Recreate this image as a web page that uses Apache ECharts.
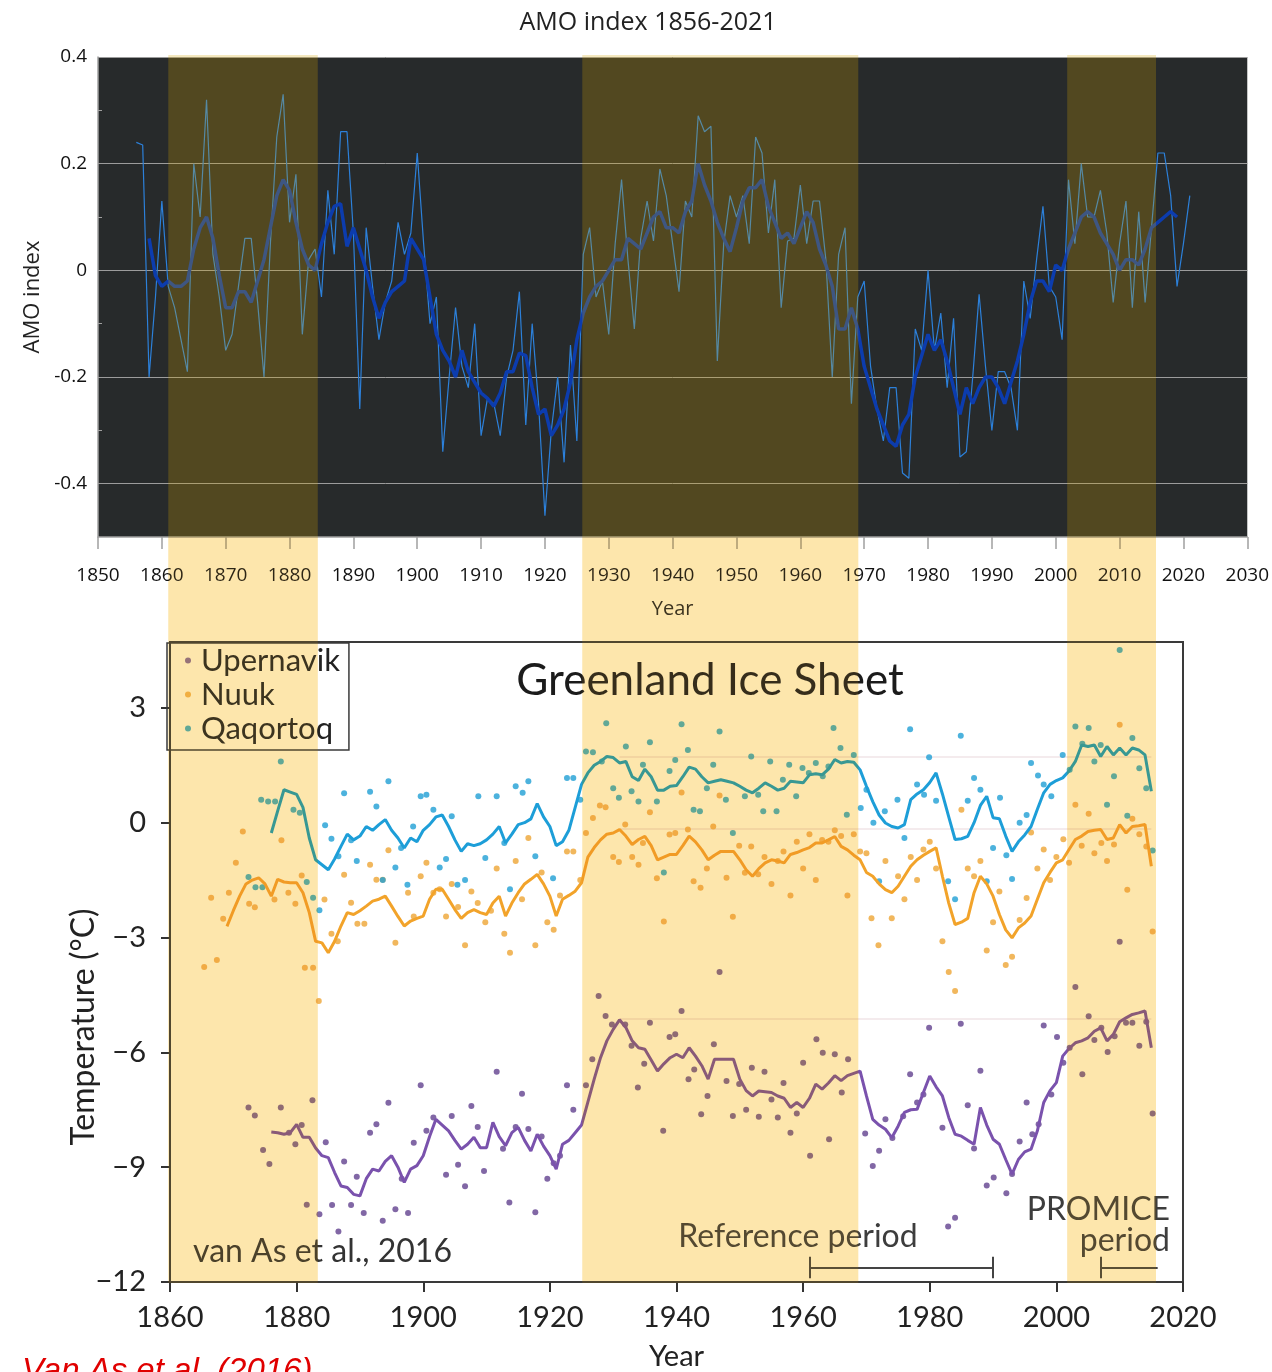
<!DOCTYPE html>
<html>
<head>
<meta charset="utf-8">
<title>AMO index and Greenland temperatures</title>
<script src="https://cdn.jsdelivr.net/npm/echarts@6/dist/echarts.min.js"></script>
<style>
  html, body { margin: 0; padding: 0; background: #fff; }
  #chart { width: 1272px; height: 1372px; }
</style>
</head>
<body>
<div id="chart"></div>
<script>
// ---- AMO index (top panel) ----
const amoStart = 1856;
const amoAnnual = [
  0.24, 0.235, -0.20, -0.05, 0.13, -0.03, -0.07, -0.13, -0.19, 0.20,
  0.10, 0.32, 0.03, -0.05, -0.15, -0.12, -0.03, 0.06, 0.06, -0.06,
  -0.20, 0.05, 0.25, 0.33, 0.09, 0.18, -0.12, 0.02, 0.04, -0.05,
  0.15, 0.03, 0.26, 0.26, 0.07, -0.26, 0.08, -0.03, -0.13, -0.06,
  -0.02, 0.09, 0.03, 0.07, 0.22, 0.05, -0.10, -0.05, -0.34, -0.20,
  -0.07, -0.18, -0.22, -0.10, -0.31, -0.24, -0.25, -0.31, -0.20, -0.15,
  -0.04, -0.29, -0.10, -0.25, -0.46, -0.30, -0.20, -0.36, -0.14, -0.32,
  0.03, 0.08, -0.05, -0.02, -0.12, 0.05, 0.17, 0.02, -0.11, 0.06,
  0.13, 0.055, 0.19, 0.14, 0.05, -0.04, 0.13, 0.10, 0.29, 0.26,
  0.27, -0.17, 0.05, 0.14, 0.10, 0.14, 0.05, 0.25, 0.22, 0.07,
  0.17, -0.07, 0.055, 0.06, 0.16, 0.05, 0.13, 0.13, 0.02, -0.20,
  0.03, 0.08, -0.25, -0.05, -0.02, -0.18, -0.26, -0.32, -0.22, -0.22,
  -0.38, -0.39, -0.11, -0.15, 0.00, -0.15, -0.08, -0.22, -0.09, -0.35,
  -0.34, -0.20, -0.045, -0.18, -0.30, -0.19, -0.19, -0.22, -0.30, -0.02,
  -0.09, 0.02, 0.12, -0.03, -0.05, -0.13, 0.17, 0.05, 0.20, 0.10,
  0.10, 0.15, 0.07, -0.06, 0.05, 0.13, -0.07, 0.11, -0.06, 0.08,
  0.22, 0.22, 0.14, -0.03, 0.05, 0.14
];
const amoSmoothStart = 1858;
const amoSmooth = [
  0.06, -0.01, -0.03, -0.02, -0.03, -0.03, -0.02, 0.04, 0.08, 0.10,
  0.06, -0.01, -0.07, -0.07, -0.04, -0.04, -0.06, -0.02, 0.02, 0.08,
  0.14, 0.17, 0.15, 0.09, 0.04, 0.01, 0.00, 0.05, 0.09, 0.12,
  0.125, 0.045, 0.08, 0.04, 0.00, -0.05, -0.09, -0.06, -0.04, -0.03,
  -0.02, 0.06, 0.04, 0.02, -0.05, -0.12, -0.15, -0.17, -0.20, -0.15,
  -0.19, -0.21, -0.23, -0.24, -0.255, -0.23, -0.19, -0.19, -0.155, -0.16,
  -0.22, -0.27, -0.26, -0.31, -0.29, -0.26, -0.21, -0.13, -0.08, -0.05,
  -0.03, -0.02, 0.00, 0.02, 0.02, 0.06, 0.05, 0.04, 0.07, 0.10,
  0.11, 0.08, 0.08, 0.07, 0.11, 0.13, 0.20, 0.16, 0.13, 0.09,
  0.06, 0.035, 0.08, 0.13, 0.155, 0.155, 0.17, 0.12, 0.09, 0.06,
  0.07, 0.05, 0.08, 0.11, 0.09, 0.04, 0.01, -0.03, -0.11, -0.11,
  -0.07, -0.11, -0.18, -0.22, -0.26, -0.29, -0.32, -0.33, -0.29, -0.27,
  -0.20, -0.16, -0.12, -0.15, -0.13, -0.17, -0.22, -0.27, -0.22, -0.25,
  -0.22, -0.20, -0.20, -0.22, -0.25, -0.21, -0.17, -0.12, -0.06, -0.02,
  -0.02, -0.04, 0.01, 0.00, 0.04, 0.07, 0.10, 0.11, 0.10, 0.07,
  0.05, 0.03, 0.00, 0.02, 0.02, 0.01, 0.04, 0.08, 0.09, 0.10,
  0.11, 0.10
];
const amoTicks = [0.4, 0.2, 0, -0.2, -0.4];
const amoMinorTicks = [0.3, 0.1, -0.1, -0.3];

// ---- Greenland station temperatures (bottom panel) ----
const upernavikStart = 1876;
const upernavikLine = [
  -8.08, -8.10, -8.14, -8.10, -7.88, -8.22, -8.22, -8.50, -8.70, -8.75,
  -9.14, -9.49, -9.53, -9.71, -9.75, -9.30, -9.05, -9.10, -8.85, -8.70,
  -9.00, -9.40, -9.05, -8.96, -8.70, -8.20, -7.75, -7.90, -8.05, -8.30,
  -8.53, -8.40, -8.22, -8.49, -8.49, -7.83, -8.20, -8.44, -8.10, -7.96,
  -8.30, -8.58, -8.14, -8.45, -8.70, -9.05, -8.40, -8.30, -8.10, -7.90,
  -7.30, -6.70, -6.14, -5.70, -5.40, -5.15, -5.35, -5.70, -5.88, -5.92,
  -6.20, -6.49, -6.30, -6.14, -6.05, -6.14, -5.88, -6.10, -6.35, -6.70,
  -6.18, -6.18, -6.18, -6.18, -6.70, -7.00, -7.14, -7.01, -7.03, -7.05,
  -7.14, -7.20, -7.44, -7.31, -7.44, -7.20, -6.83, -6.96, -6.80, -6.61,
  -6.74, -6.61, -6.55, -6.49, -7.14, -7.75, -7.90, -8.01, -8.23, -7.93,
  -7.57, -7.50, -7.49, -7.05, -6.62, -6.90, -7.14, -7.70, -8.14, -8.19,
  -8.30, -8.40, -7.44, -7.90, -8.27, -8.40, -8.80, -9.18, -8.80, -8.60,
  -8.53, -8.05, -7.31, -7.00, -6.79, -6.10, -5.90, -5.75, -5.70, -5.62,
  -5.45, -5.36, -5.70, -5.53, -5.20, -5.10, -5.01, -4.97, -4.92, -5.88
];
const nuukStart = 1869;
const nuukLine = [
  -2.71, -2.30, -1.92, -1.60, -1.50, -1.44, -1.60, -1.92, -1.48, -1.55,
  -1.57, -1.57, -1.83, -2.35, -3.10, -3.14, -3.40, -3.10, -2.70, -2.35,
  -2.40, -2.30, -2.18, -2.05, -2.00, -1.92, -2.18, -2.45, -2.70, -2.57,
  -2.50, -2.44, -2.00, -1.74, -1.74, -2.00, -2.27, -2.50, -2.35, -2.27,
  -2.35, -2.40, -2.10, -1.92, -2.44, -2.10, -1.83, -1.60, -1.48, -1.35,
  -1.60, -1.92, -2.44, -2.00, -1.90, -1.79, -1.57, -0.90, -0.65, -0.45,
  -0.30, -0.27, -0.18, -0.35, -0.57, -0.44, -0.36, -0.60, -0.97, -0.90,
  -0.83, -0.83, -0.60, -0.35, -0.50, -0.71, -0.97, -0.85, -0.75, -0.75,
  -0.75, -0.97, -1.23, -1.40, -1.20, -1.05, -0.97, -1.00, -1.05, -0.83,
  -0.78, -0.71, -0.65, -0.53, -0.53, -0.45, -0.36, -0.62, -0.71, -0.85,
  -0.97, -1.30, -1.40, -1.60, -1.75, -1.83, -1.66, -1.40, -1.14, -0.97,
  -0.85, -0.75, -0.66, -1.40, -2.10, -2.66, -2.60, -2.50, -1.83, -1.40,
  -1.60, -1.92, -2.40, -2.80, -3.01, -2.75, -2.62, -2.44, -2.00, -1.57,
  -1.30, -1.05, -0.97, -0.70, -0.44, -0.35, -0.23, -0.20, -0.18, -0.44,
  -0.40, -0.05, -0.27, -0.10, -0.08, -0.05, -1.14
];
const qaqortoqStart = 1876;
const qaqortoqLine = [
  -0.27, 0.30, 0.86, 0.80, 0.74, 0.40, -0.40, -0.97, -1.10, -1.23,
  -0.95, -0.62, -0.30, -0.45, -0.35, -0.10, -0.20, -0.05, 0.08, -0.20,
  -0.40, -0.66, -0.40, -0.50, -0.20, -0.05, 0.15, 0.20, -0.10, -0.45,
  -0.75, -0.55, -0.60, -0.55, -0.45, -0.30, -0.10, -0.53, -0.30, -0.05,
  0.00, 0.10, 0.50, 0.15, -0.10, -0.60, -0.50, -0.20, 0.40, 1.00,
  1.30, 1.50, 1.60, 1.73, 1.70, 1.56, 1.60, 1.20, 1.10, 1.40,
  1.20, 0.85, 0.85, 0.95, 0.97, 1.20, 1.45, 1.40, 1.20, 1.04,
  1.08, 1.12, 1.08, 1.04, 0.95, 0.85, 0.78, 0.90, 1.04, 0.95,
  0.85, 0.90, 1.08, 1.06, 1.04, 1.25, 1.28, 1.25, 1.40, 1.65,
  1.56, 1.60, 1.58, 1.38, 0.95, 0.55, 0.20, -0.01, -0.10, -0.14,
  -0.05, 0.60, 0.75, 0.86, 1.05, 1.30, 0.75, 0.15, -0.44, -0.42,
  -0.36, 0.00, 0.45, 0.69, 0.13, 0.10, -0.35, -0.75, -0.50, -0.32,
  -0.10, 0.35, 0.78, 1.00, 1.10, 1.17, 1.35, 1.60, 2.03, 1.99,
  2.03, 1.73, 1.99, 1.77, 1.95, 1.77, 1.95, 1.90, 1.77, 0.82
];

// annual station values [year, °C]
const upernavikDots = [
  [1872.4, -7.44], [1873.4, -7.65], [1874.7, -8.55], [1875.7, -8.92], [1877.5, -7.44], [1878.8, -8.10],
  [1879.8, -8.40], [1880.8, -7.90], [1881.6, -9.98], [1882.5, -7.25], [1883.6, -10.23], [1884.6, -8.35],
  [1885.6, -9.99], [1886.6, -10.68], [1887.5, -8.85], [1888.6, -9.99], [1889.5, -9.25], [1890.6, -10.20],
  [1891.6, -8.10], [1892.6, -7.88], [1893.6, -10.40], [1894.5, -7.32], [1895.6, -10.10], [1896.6, -9.30],
  [1897.6, -10.20], [1898.5, -8.36], [1899.6, -6.86], [1900.5, -8.05], [1901.6, -7.70], [1903.6, -9.20],
  [1904.5, -7.66], [1905.5, -8.94], [1906.6, -9.50], [1907.6, -7.40], [1908.6, -7.95], [1909.6, -9.10],
  [1911.6, -6.51], [1912.6, -8.52], [1913.6, -9.92], [1914.6, -7.95], [1915.6, -7.08], [1916.6, -8.00],
  [1917.7, -10.18], [1918.7, -8.20], [1919.6, -9.30], [1920.6, -8.90], [1921.6, -8.70], [1922.7, -6.86],
  [1923.7, -7.50], [1925.7, -6.86], [1926.7, -6.18], [1927.7, -4.53], [1928.8, -5.05], [1929.8, -5.27],
  [1931.9, -5.27], [1932.9, -5.83], [1933.9, -6.92], [1934.9, -6.30], [1935.8, -5.23], [1937.9, -8.05],
  [1938.9, -5.60], [1939.8, -5.53], [1940.8, -4.92], [1941.9, -6.70], [1942.8, -6.45], [1943.9, -7.62],
  [1944.9, -7.14], [1945.9, -5.79], [1946.8, -3.90], [1947.9, -6.75], [1948.9, -7.66], [1949.9, -6.83],
  [1951.0, -7.50], [1951.9, -6.40], [1953.0, -7.68], [1953.9, -6.51], [1955.0, -7.23], [1956.0, -7.70],
  [1956.9, -6.80], [1958.0, -8.10], [1959.0, -7.60], [1960.0, -6.27], [1961.1, -8.70], [1962.1, -5.66],
  [1963.1, -6.01], [1964.1, -8.27], [1965.0, -6.05], [1966.1, -7.05], [1967.1, -6.18], [1969.8, -8.12],
  [1971.0, -8.97], [1972.0, -8.57], [1973.0, -7.75], [1974.1, -8.24], [1975.8, -7.67], [1976.9, -6.57],
  [1978.0, -7.31], [1979.0, -7.10], [1979.9, -5.36], [1982.0, -7.97], [1982.9, -10.55], [1984.0, -10.32],
  [1984.9, -5.25], [1986.0, -7.38], [1987.0, -8.51], [1988.0, -6.48], [1989.0, -9.48], [1990.1, -9.27],
  [1992.1, -9.68], [1993.0, -9.18], [1994.2, -8.33], [1995.3, -7.31], [1996.2, -8.14], [1997.2, -7.88],
  [1998.0, -5.30], [1999.2, -7.10], [2000.1, -5.60], [2001.1, -6.27], [2002.1, -5.88], [2003.0, -4.29],
  [2004.1, -6.57], [2005.1, -5.06], [2006.0, -5.68], [2007.1, -5.36], [2008.1, -5.99], [2009.2, -5.58],
  [2010.0, -3.11], [2011.0, -5.23], [2012.0, -5.23], [2013.1, -5.83], [2014.2, -5.20], [2015.2, -7.60]
];
const nuukDots = [
  [1865.4, -3.77], [1866.5, -1.96], [1867.4, -3.59], [1868.4, -2.51], [1869.3, -1.83], [1870.4, -1.05],
  [1871.5, -0.23], [1872.5, -2.12], [1873.4, -2.21], [1876.5, -2.01], [1877.6, -0.46], [1878.7, -1.83],
  [1879.8, -2.12], [1880.8, -1.38], [1881.3, -3.79], [1882.6, -3.79], [1883.5, -4.66], [1884.4, -2.01],
  [1885.5, -2.90], [1886.5, -3.10], [1887.5, -1.36], [1888.6, -2.09], [1889.6, -2.64], [1890.7, -2.64],
  [1891.6, -1.10], [1892.6, -1.49], [1893.6, -1.49], [1894.5, -0.72], [1895.6, -3.14], [1897.6, -1.83],
  [1898.5, -2.45], [1899.6, -1.40], [1900.5, -1.05], [1901.6, -1.83], [1902.6, -1.74], [1903.6, -2.45],
  [1904.5, -1.60], [1905.5, -2.20], [1906.6, -3.20], [1907.6, -1.80], [1908.6, -2.10], [1909.8, -2.60],
  [1910.7, -2.30], [1911.6, -1.20], [1912.8, -2.90], [1913.7, -3.40], [1914.6, -1.00], [1915.6, -2.00],
  [1916.6, -0.40], [1917.7, -3.20], [1918.7, -1.30], [1919.6, -2.60], [1920.6, -2.80], [1921.6, -1.90],
  [1922.7, -0.75], [1923.7, -0.75], [1924.8, -1.50], [1925.7, -0.27], [1926.8, 0.12], [1927.9, 0.45],
  [1928.8, 0.40], [1930.0, -0.90], [1930.9, -1.03], [1931.9, -0.05], [1933.0, -0.90], [1934.0, -1.10],
  [1934.7, -0.53], [1935.8, 0.27], [1936.9, -1.45], [1938.0, -2.58], [1938.9, -0.31], [1939.8, -0.27],
  [1940.8, 0.79], [1941.8, -0.18], [1942.7, -1.53], [1943.8, -1.70], [1944.8, -1.20], [1945.8, -0.10],
  [1946.8, 0.71], [1947.9, -1.44], [1948.9, -2.46], [1949.9, -0.60], [1950.8, -1.31], [1951.8, -0.62],
  [1952.9, -1.35], [1953.9, -0.90], [1955.0, -1.60], [1956.0, -1.00], [1956.9, -0.75], [1958.0, -1.90],
  [1959.0, -0.50], [1960.0, -1.20], [1961.0, -0.30], [1962.0, -1.50], [1963.0, -0.45], [1964.0, -0.50],
  [1965.0, -0.20], [1966.0, -0.35], [1967.0, -1.90], [1968.0, -0.30], [1969.0, -0.75], [1970.0, -0.80],
  [1970.8, -2.50], [1971.9, -3.20], [1973.0, -1.00], [1974.0, -2.50], [1975.0, -1.40], [1976.0, -2.00],
  [1977.0, -0.90], [1978.0, -1.50], [1979.0, -0.70], [1980.0, -0.50], [1981.0, -1.20], [1982.0, -3.10],
  [1983.0, -3.90], [1984.0, -4.40], [1985.0, 0.34], [1986.0, -1.20], [1987.0, -1.40], [1988.0, -1.00],
  [1989.0, -3.34], [1990.0, -2.60], [1991.0, -1.80], [1992.0, -3.72], [1993.0, -3.50], [1994.2, -2.54],
  [1995.3, -1.97], [1996.0, -0.26], [1997.0, -1.20], [1998.0, -0.70], [1999.0, -1.50], [2000.0, -0.90],
  [2001.1, -0.43], [2002.0, -1.05], [2003.0, 0.47], [2004.0, -0.60], [2005.1, 0.23], [2006.0, -0.80],
  [2007.1, -0.53], [2008.0, -1.00], [2009.1, -0.57], [2010.0, 2.56], [2011.2, -1.75], [2012.0, 0.10],
  [2013.1, -0.30], [2014.2, -0.62], [2015.2, -2.84]
];
const qaqortoqDots = [
  [1872.4, -1.42], [1873.5, -1.69], [1874.6, -1.69], [1874.4, 0.60], [1875.5, 0.55], [1876.6, 0.55],
  [1877.5, 1.60], [1879.5, 0.34], [1880.5, 0.26], [1881.6, -1.55], [1882.6, -1.96], [1883.6, -2.29],
  [1884.5, -0.07], [1885.5, -0.42], [1886.6, -0.88], [1887.5, 0.77], [1888.6, -0.46], [1889.5, -1.00],
  [1891.6, 0.81], [1892.6, 0.42], [1893.6, -1.50], [1894.5, 1.08], [1895.6, -1.17], [1896.5, -0.66],
  [1897.5, -1.62], [1898.4, -0.10], [1899.6, 0.69], [1900.5, 0.73], [1901.6, 0.34], [1902.6, -1.17],
  [1903.6, -0.95], [1904.5, 0.17], [1905.4, -1.62], [1906.6, -1.50], [1908.7, 0.69], [1909.8, -0.92],
  [1911.6, 0.69], [1912.8, -0.53], [1913.7, -1.74], [1914.6, 0.95], [1915.7, 0.78], [1916.6, 1.08],
  [1917.7, -0.88], [1920.5, -1.45], [1922.7, 1.17], [1923.7, 1.17], [1924.8, 0.60], [1925.7, 1.86],
  [1926.8, 1.84], [1928.2, 1.60], [1928.9, 2.60], [1930.0, 0.90], [1930.9, 0.65], [1932.0, 1.99],
  [1932.9, 0.82], [1934.0, 0.55], [1934.7, 1.51], [1935.8, 2.10], [1936.9, 0.55], [1938.0, -1.30],
  [1938.9, 1.35], [1939.8, 1.64], [1940.8, 2.57], [1941.8, 1.90], [1942.7, 0.34], [1943.7, 0.30],
  [1944.8, 0.90], [1945.8, 1.51], [1946.8, 2.38], [1947.8, 0.60], [1948.9, -0.27], [1950.8, 0.69],
  [1951.8, 1.73], [1952.9, 0.73], [1953.7, 0.30], [1954.8, 1.60], [1955.8, 0.30], [1956.8, 1.12],
  [1957.8, 1.51], [1958.9, 0.69], [1959.9, 1.43], [1960.9, 1.30], [1962.0, 1.56], [1963.1, 1.21],
  [1964.0, 1.47], [1964.8, 2.47], [1965.9, 1.95], [1966.9, 0.21], [1968.0, 1.77], [1969.1, 0.38],
  [1970.0, 0.86], [1971.1, 0.00], [1972.0, -1.53], [1972.9, 0.30], [1974.9, 0.60], [1976.0, -0.40],
  [1976.9, 2.44], [1978.0, 1.00], [1979.1, 0.73], [1979.9, 1.71], [1981.0, 0.57], [1982.9, -1.53],
  [1984.0, -2.00], [1984.9, 2.27], [1986.0, 0.57], [1987.0, 1.17], [1988.0, 0.86], [1989.0, -1.53],
  [1990.0, -0.66], [1991.1, 0.65], [1992.1, -0.85], [1993.0, -1.47], [1994.2, 0.00], [1995.3, 0.20],
  [1996.0, 1.56], [1997.1, 1.23], [1998.0, 1.00], [1999.2, 0.69], [2001.0, 1.77], [2002.1, 1.38],
  [2003.0, 2.51], [2004.1, 2.06], [2005.1, 2.47], [2006.0, 1.60], [2007.0, 2.03], [2008.0, 0.47],
  [2009.1, 1.21], [2010.0, 4.51], [2011.2, 0.18], [2012.0, 2.21], [2013.1, 1.42], [2014.2, 0.90],
  [2015.2, -0.73]
];
const tempTicks = [3, 0, -3, -6, -9, -12];
const referenceMeans = [1.72, -0.16, -5.11];
const referenceMeanSpan = [1931, 2015];

// shaded warm AMO phases and the marked periods
const warmPhases = [[1861, 1884.4], [1925.8, 1969], [2001.7, 2015.6]];
const referencePeriod = [1961, 1990];
const promicePeriod = [2007, 2016];
const bracketLevel = -11.62;
const bracketCap = 0.28;

// ---- layout ----
const TOP = { left: 98, top: 57, width: 1150, height: 480 };
const BOT = { left: 170, top: 642, width: 1013, height: 641 };
const TOP_FONT = '"Open Sans", "DejaVu Sans", sans-serif';
const BOT_FONT = 'Lato, "Open Sans", sans-serif';

const toPairs = (start, values) => values.map((v, i) => [start + i, v]);
const isTick = (list, v) => list.some(t => Math.abs(t - v) < 1e-6);
const minus = v => (v < 0 ? '\u2212' + Math.abs(v) : String(v));

function bracket(range, withRightCap) {
  const segs = [
    [{ coord: [range[0], bracketLevel] }, { coord: [range[1], bracketLevel] }],
    [{ coord: [range[0], bracketLevel - bracketCap] }, { coord: [range[0], bracketLevel + bracketCap] }]
  ];
  if (withRightCap) {
    segs.push([{ coord: [range[1], bracketLevel - bracketCap] }, { coord: [range[1], bracketLevel + bracketCap] }]);
  }
  return segs;
}

// band pieces: 'top' covers the AMO plot, 'low' runs from there down through the lower plot
function bandRenderer(part, fill) {
  return function (params, api) {
    const x0 = api.coord([api.value(0), 0])[0];
    const x1 = api.coord([api.value(1), 0])[0];
    const cs = params.coordSys;
    const split = TOP.top + TOP.height;
    const y0 = part === 'top' ? cs.y : split;
    const y1 = part === 'top' ? split : cs.y + cs.height;
    return { type: 'rect', shape: { x: x0, y: y0, width: x1 - x0, height: y1 - y0 }, style: { fill: fill } };
  };
}

function bandSeries(part, fill, blendMode, z) {
  return {
    type: 'custom', xAxisIndex: 2, yAxisIndex: 2,
    data: warmPhases, encode: { x: [0, 1] }, renderItem: bandRenderer(part, fill),
    blendMode: blendMode, silent: true, clip: false, z: z
  };
}

const chart = echarts.init(document.getElementById('chart'));

chart.setOption({
  animation: false,
  backgroundColor: '#ffffff',
  title: {
    text: 'AMO index 1856-2021',
    left: 643,
    top: 5,
    textAlign: 'center',
    textStyle: { fontFamily: TOP_FONT, fontSize: 25, fontWeight: 'normal', color: '#222' }
  },
  legend: {
    left: 167,
    top: 643,
    orient: 'vertical',
    icon: 'circle',
    itemWidth: 16,
    itemHeight: 6,
    itemGap: 3,
    padding: [2, 9, 6, 18],
    borderColor: '#3a3a3a',
    borderWidth: 1.5,
    selectedMode: false,
    textStyle: { fontFamily: BOT_FONT, fontSize: 31, color: '#222' },
    data: [
      { name: 'Upernavik', itemStyle: { color: '#6b4c9a' } },
      { name: 'Nuuk', itemStyle: { color: '#efaa2c' } },
      { name: 'Qaqortoq', itemStyle: { color: '#1f9fd4' } }
    ]
  },
  grid: [
    { left: TOP.left, top: TOP.top, width: TOP.width, height: TOP.height, show: true,
      backgroundColor: '#272a2b', borderWidth: 0 },
    { left: BOT.left, top: BOT.top, width: BOT.width, height: BOT.height, show: true,
      backgroundColor: 'rgba(0,0,0,0)', borderColor: '#3a3a3a', borderWidth: 2 },
    { left: TOP.left, top: TOP.top - 2, width: TOP.width, height: BOT.top + BOT.height - TOP.top + 2, show: false }
  ],
  xAxis: [
    {
      gridIndex: 0, type: 'value', min: 1850, max: 2030, interval: 10,
      name: 'Year', nameLocation: 'middle', nameGap: 62,
      nameTextStyle: { fontFamily: TOP_FONT, fontSize: 20, color: '#222' },
      axisLine: { onZero: false, lineStyle: { color: '#a0a0a0', width: 1.5 } },
      axisTick: { length: 12, lineStyle: { color: '#a0a0a0', width: 1.5 } },
      axisLabel: { margin: 29, fontFamily: TOP_FONT, fontSize: 19, color: '#111', formatter: v => String(v) },
      splitLine: { show: false }
    },
    {
      gridIndex: 1, type: 'value', min: 1860, max: 2020, interval: 20,
      name: 'Year', nameLocation: 'middle', nameGap: 60,
      nameTextStyle: { fontFamily: BOT_FONT, fontSize: 29, color: '#222' },
      axisLine: { show: false, onZero: false },
      axisTick: { length: 10, lineStyle: { color: '#333', width: 2 } },
      axisLabel: { margin: 21, fontFamily: BOT_FONT, fontSize: 29, color: '#222', formatter: v => String(v) },
      splitLine: { show: false }
    },
    { gridIndex: 2, type: 'value', min: 1850, max: 2030, show: false }
  ],
  yAxis: [
    {
      gridIndex: 0, type: 'value', min: -0.5, max: 0.4,
      name: 'AMO index', nameLocation: 'middle', nameGap: 53,
      nameTextStyle: { fontFamily: TOP_FONT, fontSize: 22, color: '#222' },
      axisLine: { show: true, onZero: false, lineStyle: { color: '#a0a0a0', width: 1.5 } },
      axisTick: { show: true, inside: true, length: 4, customValues: amoMinorTicks, lineStyle: { color: '#a0a0a0' } },
      axisLabel: {
        margin: 11, fontFamily: TOP_FONT, fontSize: 19, color: '#111', customValues: amoTicks,
        formatter: v => (isTick(amoTicks, v) ? (Math.abs(v) < 1e-6 ? '0' : v.toFixed(1)) : '')
      },
      splitLine: { show: false }
    },
    {
      gridIndex: 1, type: 'value', min: -12, max: 4.72, interval: 3,
      axisLine: { show: false, onZero: false },
      axisTick: { length: 9, customValues: tempTicks, lineStyle: { color: '#333', width: 2 } },
      axisLabel: {
        margin: 24, fontFamily: BOT_FONT, fontSize: 29, color: '#222', customValues: tempTicks,
        formatter: v => (isTick(tempTicks, v) ? minus(v) : '')
      },
      splitLine: { show: false }
    },
    { gridIndex: 2, type: 'value', min: 0, max: 1, show: false }
  ],
  graphic: [
    { type: 'text', x: 84, y: 1027, rotation: Math.PI / 2, silent: true,
      style: { text: 'Temperature (°C)', font: '32px ' + BOT_FONT, fill: '#222', align: 'center', verticalAlign: 'middle' } },
    { type: 'text', x: 710, y: 681, silent: true,
      style: { text: 'Greenland Ice Sheet', font: '44px ' + BOT_FONT, fill: '#1b1b1b', align: 'center', verticalAlign: 'middle' } },
    { type: 'text', x: 193, y: 1252, silent: true,
      style: { text: 'van As et al., 2016', font: '32px ' + BOT_FONT, fill: '#333', align: 'left', verticalAlign: 'middle' } },
    { type: 'text', x: 798, y: 1237, silent: true,
      style: { text: 'Reference period', font: '32px ' + BOT_FONT, fill: '#3d3d3d', align: 'center', verticalAlign: 'middle' } },
    { type: 'text', x: 1170, y: 1210, silent: true,
      style: { text: 'PROMICE', font: '32px ' + BOT_FONT, fill: '#3d3d3d', align: 'right', verticalAlign: 'middle' } },
    { type: 'text', x: 1170, y: 1241, silent: true,
      style: { text: 'period', font: '32px ' + BOT_FONT, fill: '#3d3d3d', align: 'right', verticalAlign: 'middle' } },
    { type: 'text', x: 22, y: 1355, silent: true,
      style: { text: 'Van As et al. (2016)', font: 'italic 33px "Liberation Sans", Arial, sans-serif', fill: '#e00000', align: 'left', verticalAlign: 'top' } }
  ],
  series: [
    {
      name: 'AMO annual', type: 'line', xAxisIndex: 0, yAxisIndex: 0,
      data: toPairs(amoStart, amoAnnual), showSymbol: false, z: 2,
      lineStyle: { color: '#2c80da', width: 1.2 },
      markLine: {
        silent: true, z: 1, symbol: ['none', 'none'], label: { show: false },
        lineStyle: { color: '#9c9c9c', width: 1, type: 'solid' },
        data: amoTicks.map(v => ({ yAxis: v }))
      }
    },
    {
      name: 'AMO smoothed', type: 'line', xAxisIndex: 0, yAxisIndex: 0,
      data: toPairs(amoSmoothStart, amoSmooth), showSymbol: false, z: 3,
      lineStyle: { color: '#0c3cae', width: 3.5 }
    },
    {
      name: 'Upernavik', type: 'scatter', xAxisIndex: 1, yAxisIndex: 1,
      data: upernavikDots, symbolSize: 6, itemStyle: { color: '#62418f' }, z: 2
    },
    {
      name: 'Nuuk', type: 'scatter', xAxisIndex: 1, yAxisIndex: 1,
      data: nuukDots, symbolSize: 6, itemStyle: { color: '#eea534' }, z: 2
    },
    {
      name: 'Qaqortoq', type: 'scatter', xAxisIndex: 1, yAxisIndex: 1,
      data: qaqortoqDots, symbolSize: 6, itemStyle: { color: '#1f9fd4' }, z: 2
    },
    {
      name: 'Upernavik smoothed', type: 'line', xAxisIndex: 1, yAxisIndex: 1,
      data: toPairs(upernavikStart, upernavikLine), showSymbol: false, z: 3,
      lineStyle: { color: '#7a52ad', width: 3 },
      markLine: {
        silent: true, z: 1, symbol: ['none', 'none'], label: { show: false },
        lineStyle: { color: '#f1e4e7', width: 1.5, type: 'solid' },
        data: referenceMeans.map(v => [{ coord: [referenceMeanSpan[0], v] }, { coord: [referenceMeanSpan[1], v] }])
      }
    },
    {
      name: 'Nuuk smoothed', type: 'line', xAxisIndex: 1, yAxisIndex: 1,
      data: toPairs(nuukStart, nuukLine), showSymbol: false, z: 3,
      lineStyle: { color: '#f2a32a', width: 3 },
      markLine: {
        silent: true, symbol: ['none', 'none'], label: { show: false },
        lineStyle: { color: '#444', width: 2, type: 'solid' },
        data: bracket(referencePeriod, true).concat(bracket(promicePeriod, false))
      }
    },
    {
      name: 'Qaqortoq smoothed', type: 'line', xAxisIndex: 1, yAxisIndex: 1,
      data: toPairs(qaqortoqStart, qaqortoqLine), showSymbol: false, z: 3,
      lineStyle: { color: '#1d9ed8', width: 3 }
    },
    bandSeries('top', 'rgba(212,162,0,0.25)', 'source-over', 100),
    bandSeries('low', '#fdebb9', 'multiply', 101),
    bandSeries('low', 'rgba(255,196,80,0.12)', 'source-over', 102)
  ]
});
</script>
</body>
</html>
